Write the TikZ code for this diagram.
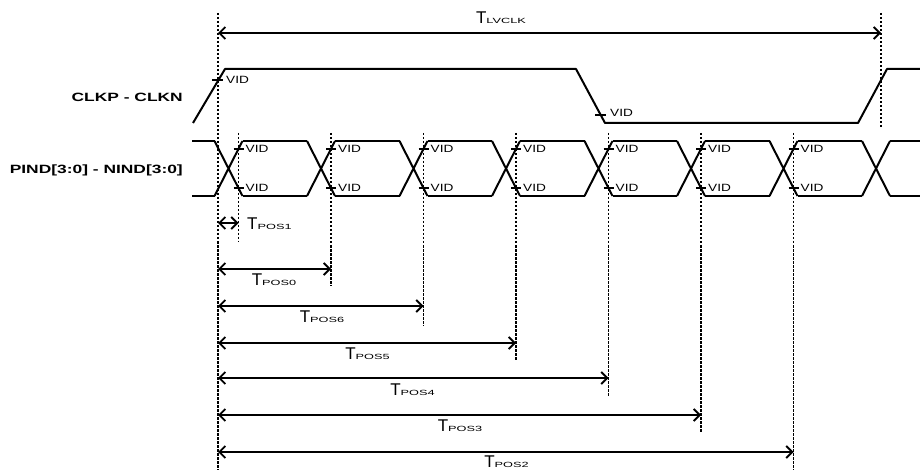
\documentclass[tikz,border=0pt]{standalone}
\usepackage{fontspec}
\setmainfont{Liberation Sans}
\newfontfamily\namesf[FakeStretch=1.45]{Liberation Sans}
\newfontfamily\vidsf[FakeStretch=1.3]{Liberation Sans}
\newfontfamily\subsf[FakeStretch=1.7]{Liberation Sans}
\usetikzlibrary{arrows.meta}
% T with a wide small index on its baseline
\newcommand\tpos[1]{{\fontsize{17}{17}\selectfont T}{\subsf\fontsize{7.5}{8}\selectfont #1}}

\begin{document}
\begin{tikzpicture}[x=1pt, y=-1pt,
    sig/.style = {line width=2pt, line join=round},
    guide/.style = {line width=1.3pt, dash pattern=on 2.5pt off 1.5pt},
    dim/.style = {line width=1.8pt, {Straight Barb[length=6pt,width=12pt]}-{Straight Barb[length=6pt,width=12pt]}},
    tick/.style = {line width=1.2pt},
    vid/.style = {font=\vidsf\fontsize{10.5}{11}\selectfont, anchor=west, inner sep=0pt},
    sname/.style = {font=\namesf\bfseries\fontsize{12}{12}\selectfont, anchor=east, inner sep=0pt},
    tlab/.style = {inner sep=0pt}]
    \useasboundingbox (0,0) rectangle (920,470);

    % signal names
    \node[sname] (clk) at (183,97) {CLKP - CLKN};
    \node[sname] (dat) at (183,170) {PIND[3:0] - NIND[3:0]};

    % clock
    \draw[sig] (193,123) -- (225,69) -- (576,69) -- (605,123) -- (858,123) -- (887,69) -- (920,69);
    \draw[tick] (212,80) -- (223,80) (595,115) -- (606,115);
    \node[vid] (cv1) at (226,80) {VID};
    \node[vid] (cv2) at (610,113) {VID};

    % data eye
    \draw[sig] (192,141) -- (214.5,141) (192,196) -- (214.5,196);
    \foreach \k in {0,...,7} {
        \pgfmathsetmacro\c{228.5+92.5*\k}
        \pgfmathsetmacro\e{min(\c+78.5,920)}
        \draw[sig] (\c-14,141) -- (\c+14,196) (\c-14,196) -- (\c+14,141);
        \draw[sig] (\c+14,141) -- (\e,141) (\c+14,196) -- (\e,196);
    }

    % reference lines
    \coordinate (m) at (218,13);
    \coordinate (lv) at (881,13);
    \draw[guide, line width=2pt] (m) -- (218,470);
    \draw[guide] (lv) -- (881,127);
    \foreach \k/\e in {0/242, 1/286, 2/326, 3/360, 4/397, 5/433, 6/470} {
        \pgfmathsetmacro\g{238.5+92.5*\k}
        \coordinate (g\k) at (\g,133);
        \draw[guide] (g\k) -- (\g,\e);
        \draw[tick] (\g-5,149) -- (\g+5,149) (\g-5,188) -- (\g+5,188);
        \node[vid] (vt\k) at (\g+7,149) {VID};
        \node[vid] (vb\k) at (\g+7,188) {VID};
    }

    % timing arrows
    \draw[dim] (m |- 0,33) -- (lv |- 0,33);
    \foreach \k/\y in {0/223, 1/269, 2/306, 3/343, 4/378, 5/415, 6/452}
        \draw[dim] (m |- 0,\y) -- (g\k |- 0,\y);

    \node[tlab] (tlv) at (501,18) {\tpos{LVCLK}};
    \node[tlab, anchor=west] (tp1) at (247,224) {\tpos{POS1}};
    \node[tlab] (tp0) at (274,279.5) {\tpos{POS0}};
    \node[tlab] (tp6) at (322,316.5) {\tpos{POS6}};
    \node[tlab] (tp5) at (367.5,353.5) {\tpos{POS5}};
    \node[tlab] (tp4) at (412.5,390) {\tpos{POS4}};
    \node[tlab] (tp3) at (460,425.5) {\tpos{POS3}};
    \node[tlab] (tp2) at (506.5,462) {\tpos{POS2}};
\end{tikzpicture}
\end{document}
